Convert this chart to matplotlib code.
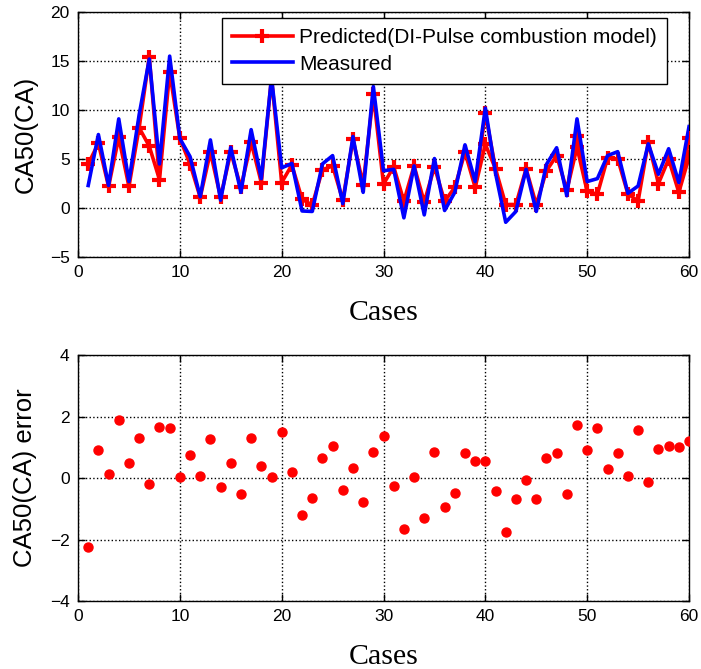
import numpy as np
import matplotlib
matplotlib.use('Agg')
import matplotlib.pyplot as plt

# case numbers 1..60
cases = list(range(1, 61))

# predicted CA50 (DI-Pulse combustion model)
predicted = [4.5, 6.6, 2.2, 7.2, 2.2, 8.2, 15.4, 2.9, 13.9, 7.1,
             4.5, 1.1, 5.7, 1.1, 5.7, 2.1, 6.7, 2.6, 13.3, 2.6,
             4.4, 0.9, 0.3, 3.9, 4.3, 0.8, 7.0, 2.4, 11.6, 2.45,
             4.2, 0.7, 4.3, 0.6, 4.2, 0.7, 2.1, 5.7, 2.1, 9.7,
             4.0, 0.35, 0.35, 4.0, 0.35, 3.8, 5.35, 1.8, 7.4, 1.7,
             1.4, 5.1, 5.0, 1.45, 0.7, 6.7, 2.5, 5.0, 1.6, 7.1]

# measured CA50
measured = [2.3, 7.5, 2.3, 9.1, 2.7, 9.5, 15.2, 4.5, 15.5, 7.1,
            5.25, 1.15, 6.95, 0.8, 6.2, 1.6, 8.0, 3.0, 13.3, 4.1,
            4.55, -0.3, -0.35, 4.5, 5.35, 0.45, 7.3, 1.6, 12.4, 3.8,
            3.95, -1.0, 4.3, -0.7, 5.05, -0.25, 1.6, 6.45, 2.7, 10.2,
            3.55, -1.45, -0.35, 3.95, -0.35, 4.45, 6.15, 1.25, 9.1, 2.7,
            3.0, 5.35, 5.75, 1.5, 2.25, 6.55, 3.45, 6.05, 2.6, 8.3]

# extra red branches visible in the original (second predicted trace)
alt_cases = [7, 40, 49, 60]
alt_values = [6.3, 6.5, 6.2, 5.2]

# error plot (measured - predicted)
error = [-2.24, 0.90, 0.12, 1.88, 0.49, 1.30, -0.18, 1.67, 1.62, 0.03,
         0.75, 0.07, 1.26, -0.28, 0.49, -0.53, 1.31, 0.38, 0.02, 1.50,
         0.18, -1.21, -0.64, 0.64, 1.05, -0.38, 0.34, -0.78, 0.84, 1.36,
         -0.27, -1.67, 0.03, -1.31, 0.84, -0.95, -0.49, 0.82, 0.55, 0.55,
         -0.43, -1.77, -0.68, -0.07, -0.68, 0.65, 0.80, -0.53, 1.72, 0.90,
         1.62, 0.28, 0.80, 0.06, 1.57, -0.12, 0.94, 1.05, 1.00, 1.21]

sans = 'Liberation Sans'
serif = 'Liberation Serif'

fig = plt.figure(figsize=(7.01, 6.69), dpi=100)
ax1 = fig.add_axes([0.1113, 0.6158, 0.8716, 0.3662])
ax2 = fig.add_axes([0.1113, 0.1016, 0.8716, 0.3677])

# secondary red branches drawn first, underneath
for c, v in zip(alt_cases, alt_values):
    i = c - 1
    xs = [c - 1, c] + ([c + 1] if c < 60 else [])
    ys = [predicted[i - 1], v] + ([predicted[i + 1]] if c < 60 else [])
    ax1.plot(xs, ys, color='red', lw=2.6, zorder=2)
    ax1.plot([c], [v], color='red', marker='+', ms=10, mew=3, zorder=2)

ax1.plot(cases, predicted, color='red', lw=2.6, marker='+', ms=10, mew=3,
         label='Predicted(DI-Pulse combustion model)', zorder=3)
ax1.plot(cases, measured, color='blue', lw=2.6,
         label='Measured', zorder=4)

ax1.set_xlim(0, 60)
ax1.set_ylim(-5, 20)
ax1.set_xticks(np.arange(0, 61, 10))
ax1.set_yticks(np.arange(-5, 21, 5))
ax1.set_xlabel('Cases', fontsize=21.5, family=serif, labelpad=14)
ax1.set_ylabel('CA50(CA)', fontsize=18.5, family=sans, labelpad=9)
leg = ax1.legend(loc='upper right', prop={'family': sans, 'size': 15},
                 bbox_to_anchor=(667 / 701, 1 - 18 / 669),
                 bbox_transform=fig.transFigure, borderaxespad=0,
                 fancybox=False, framealpha=1, edgecolor='black',
                 handlelength=2.9, handletextpad=0.3, borderpad=0.5,
                 labelspacing=0.35)
leg.get_frame().set_linewidth(1.0)
leg.set_zorder(10)

ax2.plot(cases, error, 'o', color='red', ms=6.5, mec='red', zorder=3)
ax2.set_xlim(0, 60)
ax2.set_ylim(-4, 4)
ax2.set_xticks(np.arange(0, 61, 10))
ax2.set_yticks(np.arange(-4, 5, 2))
ax2.set_xlabel('Cases', fontsize=21.5, family=serif, labelpad=14)
ax2.set_ylabel('CA50(CA) error', fontsize=18.5, family=sans, labelpad=9)

for ax in (ax1, ax2):
    ax.grid(True, color='black', ls=':', lw=1.0)
    ax.set_axisbelow(True)
    ax.tick_params(direction='in', top=True, right=True, length=5,
                   labelsize=12.5, width=1, pad=6)
    for lab in ax.get_xticklabels() + ax.get_yticklabels():
        lab.set_family(sans)
    for s in ax.spines.values():
        s.set_linewidth(1.0)

fig.savefig('out.png', dpi=100)
